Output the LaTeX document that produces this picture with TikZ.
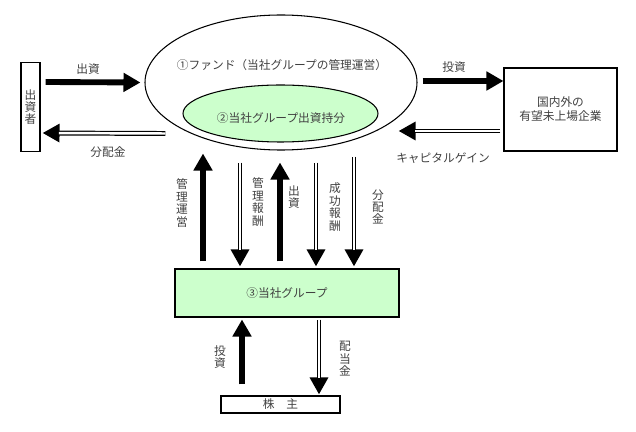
\documentclass[tikz,border=0pt]{standalone}
\usepackage{fontspec}
\setmainfont{Noto Sans CJK JP}
\usetikzlibrary{arrows.meta, positioning, shapes.geometric}

\definecolor{paleGreen}{RGB}{204,255,204}

\begin{document}
\begin{tikzpicture}[x=0.03cm, y=-0.03cm,
                every node/.style={font=\fontsize{10}{10.6}\selectfont, text=black!75},
                party/.style={rectangle, draw, line width=0.9pt, fill=white, inner sep=0pt},
                fundset/.style={ellipse, draw, line width=0.9pt, inner sep=0pt},
                flowin/.style={line width=5pt, -{Triangle[length=14.5pt, width=15.5pt]}},
                flowback/.style={line width=4.2pt, -{Triangle[length=14.5pt, width=15pt]},
                                 postaction={draw=white, line width=2.1pt, shorten >=14pt, -}},
                tate/.style={align=center, inner sep=0pt}]
                \useasboundingbox (0,0) rectangle (636,432);

                % main parties
                \node[fundset, minimum width=8.16cm, minimum height=4.05cm] (fund) at (281,82.5) {};
                \node at (282,65) {①ファンド（当社グループの管理運営）};
                \node[fundset, fill=paleGreen, minimum width=5.85cm, minimum height=1.71cm] (share) at (280.5,113.5) {};
                \node at (281,118) {②当社グループ出資持分};
                \node[party, minimum width=0.57cm, minimum height=2.67cm, tate] (inv) at (30.5,107) {出\\資\\者};
                \node[party, minimum width=3.39cm, minimum height=2.49cm, align=center,
                      font=\fontsize{10}{11.9}\selectfont] (firm) at (560.5,109.5) {国内外の\\有望未上場企業};
                \node[party, fill=paleGreen, minimum width=6.72cm, minimum height=1.44cm] (grp) at (287,293) {③当社グループ};
                \node[party, minimum width=3.57cm, minimum height=0.51cm] (holder) at (280.5,404.5) {株　主};

                % fund <-> investors and companies
                \draw[flowin] ([shift={(5,-25)}]inv.east) -- ([shift={(-4,0)}]fund.west);
                \draw[flowback] ([shift={(21,51)}]fund.west) -- ([shift={(2,26)}]inv.east);
                \draw[flowin] ([shift={(5,-1.5)}]fund.east) -- ([shift={(0,-28.5)}]firm.west);
                \draw[flowback] ([shift={(-3,21.5)}]firm.west) -- ([shift={(-19,48.5)}]fund.east);
                \node at (88,69) {出資};
                \node at (108,152) {分配金};
                \node at (454,67) {投資};
                \node at (443,158) {キャピタルゲイン};

                % fund <-> group
                \draw[flowin] ([shift={(-84,-7)}]grp.north) -- ([shift={(-78,3)}]fund.south);
                \draw[flowback] ([shift={(-41,12)}]fund.south) -- ([shift={(-47,-2)}]grp.north);
                \draw[flowin] ([shift={(-7,-7)}]grp.north) -- ([shift={(-1,12)}]fund.south);
                \draw[flowback] ([shift={(35,12)}]fund.south) -- ([shift={(29,-2)}]grp.north);
                \draw[flowback] ([shift={(73,6)}]fund.south) -- ([shift={(67,-2)}]grp.north);
                \node[tate] at (182,203) {管\\理\\運\\営};
                \node[tate] at (258,202) {管\\理\\報\\酬};
                \node[tate] at (294,197) {出\\資};
                \node[tate] at (335,207) {成\\功\\報\\酬};
                \node[tate] at (378,207) {分\\配\\金};

                % group <-> shareholders
                \draw[flowin] ([shift={(-38.5,-11)}]holder.north) -- ([shift={(-45,2)}]grp.south);
                \draw[flowback] ([shift={(32,2)}]grp.south) -- ([shift={(38.5,-1)}]holder.north);
                \node[tate] at (220,357) {投\\資};
                \node[tate] at (345,359) {配\\当\\金};
\end{tikzpicture}
\end{document}
